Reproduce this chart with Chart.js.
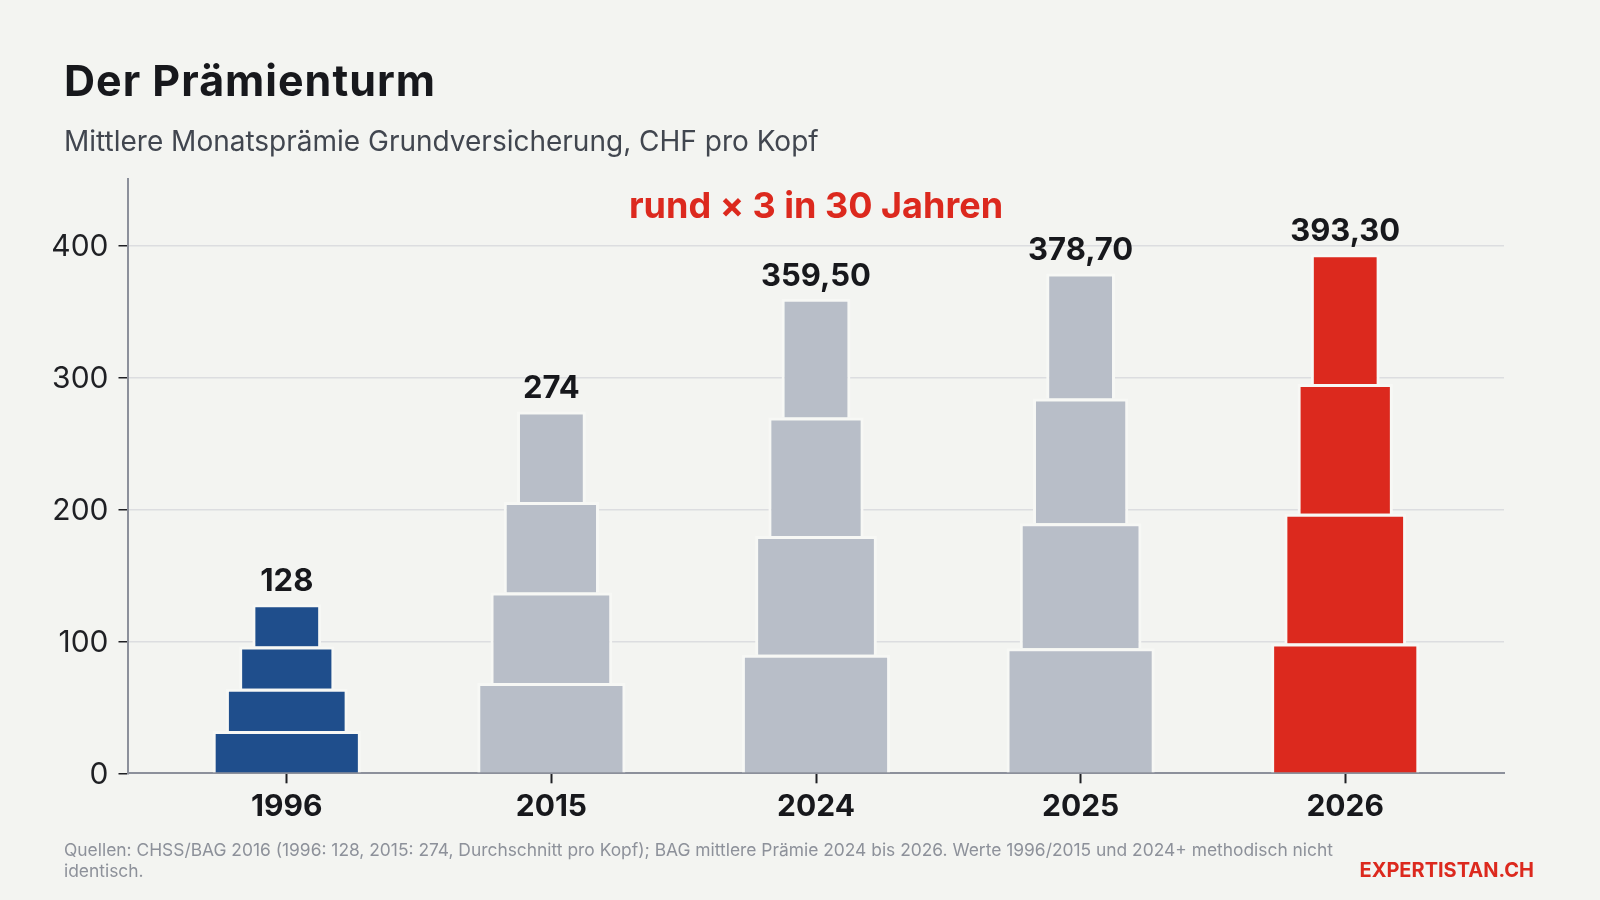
<!DOCTYPE html>
<html lang="de">
<head>
<meta charset="utf-8">
<title>Der Prämienturm</title>
<script src="https://cdn.jsdelivr.net/npm/chart.js@4.4.1/dist/chart.umd.min.js"></script>
<style>
html,body{margin:0;padding:0;background:#f3f4f1;width:1600px;height:900px;overflow:hidden;font-family:Inter,"Noto Sans",sans-serif}
#wrap{position:relative;width:1600px;height:900px}
canvas{position:absolute;left:0;top:0}
.t{position:absolute;white-space:nowrap}
#title{left:64px;top:59px;font-size:43px;letter-spacing:1px;font-weight:700;line-height:1;color:#17181c}
#subtitle{left:64px;top:127px;font-size:28px;line-height:1;color:#41464f}
#note{left:64px;top:839px;font-size:17.4px;line-height:21px;color:#8d919a}
#brand{right:66px;top:860px;font-size:20px;font-weight:700;color:#dc291e;line-height:1}
</style>
</head>
<body>
<div id="wrap">
<canvas id="c" width="1600" height="900"></canvas>
<div class="t" id="title">Der Prämienturm</div>
<div class="t" id="subtitle">Mittlere Monatsprämie Grundversicherung, CHF pro Kopf</div>
<div class="t" id="note">Quellen: CHSS/BAG 2016 (1996: 128, 2015: 274, Durchschnitt pro Kopf); BAG mittlere Prämie 2024 bis 2026. Werte 1996/2015 und 2024+ methodisch nicht<br>identisch.</div>
<div class="t" id="brand">EXPERTISTAN.CH</div>
</div>
<script>
const years = ['1996', '2015', '2024', '2025', '2026'];
const values = [128, 274, 359.5, 378.7, 393.3];
const valueLabels = ['128', '274', '359,50', '378,70', '393,30'];
const yTicks = [0, 100, 200, 300, 400];
const tierNames = ['Stufe 1', 'Stufe 2', 'Stufe 3', 'Stufe 4'];
const annotationText = 'rund × 3 in 30 Jahren';

const barColors = ['#1f4e8c', '#b8bec8', '#b8bec8', '#b8bec8', '#dc291e'];
const tierWidths = [0.56, 0.46, 0.36, 0.26];

const datasets = tierNames.map((name, t) => ({
  label: name,
  data: values.map((v, i) => ({ x: i, y: v / tierNames.length })),
  backgroundColor: barColors,
  borderColor: '#f7f8f5',
  borderWidth: 3,
  borderSkipped: 'start',
  barPercentage: tierWidths[t],
  categoryPercentage: 1
}));

const labelPlugin = {
  id: 'towerLabels',
  afterDatasetsDraw(chart) {
    const { ctx, chartArea, scales: { x, y } } = chart;
    ctx.save();
    ctx.textAlign = 'center';
    ctx.textBaseline = 'middle';
    ctx.font = '700 31px Inter';
    ctx.fillStyle = '#17181c';
    values.forEach((v, i) => {
      ctx.fillText(valueLabels[i], x.getPixelForValue(i), y.getPixelForValue(v) - 22.5);
    });
    ctx.font = '700 36px Inter';
    ctx.fillStyle = '#dc291e';
    ctx.fillText(annotationText, (chartArea.left + chartArea.right) / 2, chartArea.top + 28);
    ctx.restore();
  }
};

new Chart(document.getElementById('c'), {
  type: 'bar',
  data: { datasets },
  options: {
    responsive: false,
    devicePixelRatio: 1,
    animation: false,
    layout: { padding: { left: 0, right: 96, top: 179.3, bottom: 0 } },
    plugins: { legend: { display: false }, tooltip: { enabled: false }, title: { display: false } },
    scales: {
      x: {
        type: 'linear',
        stacked: true,
        min: -0.6,
        max: 4.6,
        offset: false,
        afterBuildTicks: s => { s.ticks = years.map((_, i) => ({ value: i })); },
        afterFit: s => { s.height = 126.7; },
        border: { color: '#8c909b', width: 2 },
        grid: { offset: false, drawOnChartArea: false, drawTicks: true, tickLength: 10, tickColor: '#1f2024', tickWidth: 2 },
        ticks: {
          callback: v => years[v],
          font: { family: 'Inter', size: 30, weight: '700' },
          color: '#17181c',
          padding: 6,
          maxRotation: 0,
          autoSkip: false
        }
      },
      y: {
        stacked: true,
        min: 0,
        max: 450,
        afterBuildTicks: s => { s.ticks = yTicks.map(v => ({ value: v })); },
        afterFit: s => { s.width = 128; },
        border: { color: '#8c909b', width: 2 },
        grid: {
          color: c => (c.tick && c.tick.value === 0) ? 'rgba(0,0,0,0)' : '#dcdde0',
          lineWidth: 1.5,
          drawTicks: true,
          tickLength: 9.5,
          tickColor: '#1f2024',
          tickWidth: 1.5
        },
        ticks: { font: { family: 'Inter', size: 30 }, color: '#1f2024', padding: 10, labelOffset: 2 }
      }
    }
  },
  plugins: [labelPlugin]
});
</script>
</body>
</html>
